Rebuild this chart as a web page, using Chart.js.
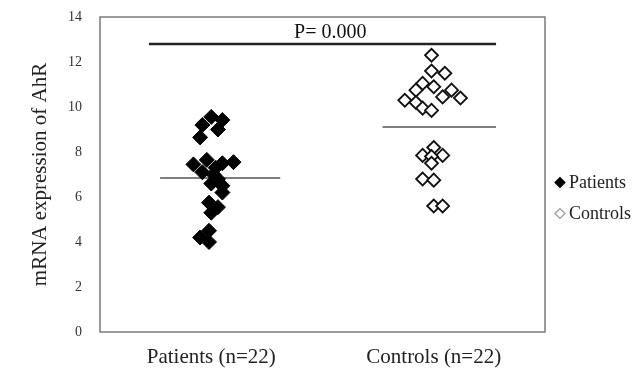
<!DOCTYPE html>
<html>
<head>
<meta charset="utf-8">
<script src="https://cdn.jsdelivr.net/npm/chart.js@4/dist/chart.umd.min.js"></script>
<style>
  html, body { margin: 0; padding: 0; background: #ffffff; }
  #wrap { width: 635px; height: 372px; }
</style>
</head>
<body>
<div id="wrap"><canvas id="c" width="635" height="372"></canvas></div>
<script>
// ---- data ----
const categories = ["Patients (n=22)", "Controls (n=22)"];
const yTicks = [0, 2, 4, 6, 8, 10, 12, 14];

const patientsY = [9.56, 9.42, 9.2, 9.0, 8.65, 7.65, 7.45, 7.5, 7.55, 7.3, 7.1, 7.0, 6.8, 6.6, 6.5, 6.2, 5.75, 5.55, 5.3, 4.5, 4.2, 4.0];
const patientsX = [1.00, 1.05, 0.96, 1.03, 0.95, 0.98, 0.92, 1.05, 1.10, 1.02, 0.96, 1.01, 1.03, 1.00, 1.05, 1.05, 0.99, 1.03, 1.00, 0.99, 0.95, 0.99];

const controlsY = [12.3, 11.6, 11.5, 11.05, 10.9, 10.75, 10.75, 10.45, 10.4, 10.3, 10.2, 9.95, 9.85, 8.2, 7.85, 7.85, 7.8, 7.5, 6.8, 6.75, 5.6, 5.6];
const controlsX = [1.99, 1.99, 2.05, 1.95, 2.00, 1.92, 2.08, 2.04, 2.12, 1.87, 1.92, 1.95, 1.99, 2.00, 1.95, 2.04, 1.99, 1.99, 1.95, 2.00, 2.00, 2.04];

const patientsMean = 6.85;
const controlsMean = 9.11;
const pLineY = 12.8;
const pLabel = "P= 0.000";
const seriesNames = ["Patients", "Controls"];

// ---- build ----
const toPts = (xs, ys) => ys.map((y, i) => ({ x: xs[i], y }));
const SERIF = "'Liberation Serif', 'Times New Roman', serif";

const boxPlugin = {
  id: 'boxPlugin',
  beforeDatasetsDraw(chart) {
    const { ctx, chartArea: a } = chart;
    ctx.save();
    ctx.strokeStyle = '#7a7a7a';
    ctx.lineWidth = 1.5;
    ctx.strokeRect(a.left, a.top, a.right - a.left, a.bottom - a.top);
    ctx.restore();
  },
  afterDatasetsDraw(chart) {
    const { ctx, scales, chartArea: a } = chart;
    ctx.save();
    // P value label
    ctx.fillStyle = '#111';
    ctx.font = "20px " + SERIF;
    ctx.textAlign = 'center';
    ctx.textBaseline = 'bottom';
    ctx.fillText(pLabel, scales.x.getPixelForValue(1.535), scales.y.getPixelForValue(pLineY) - 1);
    // legend
    const lx = a.right + 15;
    const ly0 = a.top + (a.bottom - a.top) / 2 + 8;
    const gap = 31;
    ctx.font = "18px " + SERIF;
    ctx.textAlign = 'left';
    ctx.textBaseline = 'middle';
    chart.data.datasets.slice(0, 2).forEach((ds, i) => {
      const y = ly0 + i * gap;
      ctx.fillStyle = i === 0 ? '#000' : '#fff';
      ctx.strokeStyle = i === 0 ? '#000' : '#999';
      ctx.lineWidth = 1.2;
      Chart.helpers.drawPoint(ctx, { pointStyle: 'rectRot', radius: 5, borderWidth: 1.2, rotation: 0 }, lx, y);
      ctx.fillStyle = '#222';
      ctx.fillText(seriesNames[i], lx + 9, y + 1);
    });
    ctx.restore();
  }
};

new Chart(document.getElementById('c'), {
  type: 'scatter',
  data: {
    datasets: [
      {
        label: seriesNames[0],
        data: toPts(patientsX, patientsY),
        pointStyle: 'rectRot',
        pointRadius: 7.5,
        pointBackgroundColor: '#000',
        pointBorderColor: '#000',
        pointBorderWidth: 1
      },
      {
        label: seriesNames[1],
        data: toPts(controlsX, controlsY),
        pointStyle: 'rectRot',
        pointRadius: 6.5,
        pointBackgroundColor: '#fff',
        pointBorderColor: '#111',
        pointBorderWidth: 1.8
      },
      {
        type: 'line',
        label: '_pmean',
        data: [{ x: 0.77, y: patientsMean }, { x: 1.31, y: patientsMean }],
        borderColor: '#555', borderWidth: 1.5, pointRadius: 0, showLine: true
      },
      {
        type: 'line',
        label: '_cmean',
        data: [{ x: 1.77, y: controlsMean }, { x: 2.28, y: controlsMean }],
        borderColor: '#555', borderWidth: 1.5, pointRadius: 0, showLine: true
      },
      {
        type: 'line',
        label: '_pline',
        data: [{ x: 0.72, y: pLineY }, { x: 2.28, y: pLineY }],
        borderColor: '#222', borderWidth: 2.5, pointRadius: 0, showLine: true
      }
    ]
  },
  options: {
    responsive: false,
    animation: false,
    layout: { padding: { top: 17, right: 90, bottom: 0, left: 28 } },
    plugins: {
      tooltip: { enabled: false },
      legend: { display: false }
    },
    scales: {
      x: {
        type: 'linear',
        min: 0.5,
        max: 2.5,
        afterBuildTicks: (s) => { s.ticks = [{ value: 1 }, { value: 2 }]; },
        afterFit: (s) => { s.height = 40; s.paddingLeft = 0; s.paddingRight = 0; },
        ticks: {
          callback: (v) => categories[Math.round(v) - 1],
          color: '#222',
          font: { family: SERIF, size: 21 },
          padding: 13,
          maxRotation: 0
        },
        grid: { display: false, drawTicks: false },
        border: { display: false }
      },
      y: {
        min: 0,
        max: 14,
        afterBuildTicks: (s) => { s.ticks = yTicks.map(v => ({ value: v })); },
        afterFit: (s) => { s.width = 72; s.paddingTop = 0; s.paddingBottom = 0; },
        ticks: {
          color: '#333',
          font: { family: SERIF, size: 14 },
          padding: 18
        },
        grid: { display: false, drawTicks: false },
        border: { display: false },
        title: {
          display: true,
          text: 'mRNA expression of AhR',
          color: '#222',
          font: { family: SERIF, size: 21 },
          padding: { top: 0, bottom: 0 }
        }
      }
    }
  },
  plugins: [boxPlugin]
});
</script>
</body>
</html>
